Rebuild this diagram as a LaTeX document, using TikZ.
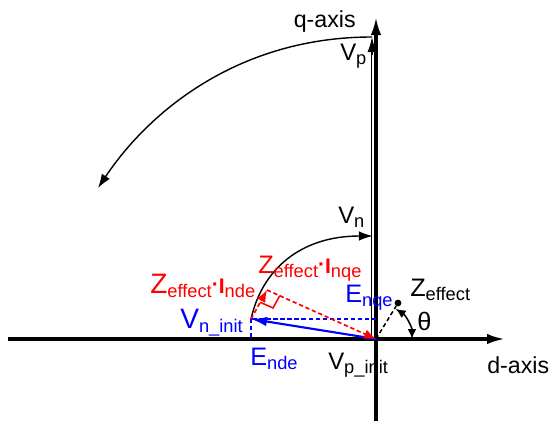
\documentclass[tikz,border=0pt]{standalone}
\usepackage{fontspec}
\setmainfont{Liberation Sans}
\usetikzlibrary{positioning, arrows.meta, calc}
\newcommand{\fsz}[1]{\fontsize{#1}{#1}\selectfont}
\newcommand{\lsub}[1]{\raisebox{-3pt}{\fsz{13}#1}}
\newcommand{\zdot}{\textbf{\fsz{15}\raisebox{1pt}{·}I}}

\begin{document}
\begin{tikzpicture}[
    axis/.style={line width=2.2pt, -{Latex[length=4.5mm, width=2.6mm]}},
    vec/.style={line width=1.5pt, -{Latex[length=4mm, width=2.4mm]}},
    swing/.style={line width=1pt, -{Latex[length=3.5mm, width=2.4mm]}},
    reddash/.style={red, densely dashed, line width=1.2pt, -{Latex[length=3mm, width=2.4mm]}},
    bluedash/.style={blue, densely dashed, line width=1.2pt},
    lbl/.style={inner sep=0pt, anchor=base west, font={\fsz{18}}}
]
\useasboundingbox (-9.4,-2.05) rectangle (4.375,8.475);

% points
\coordinate (O) at (0,0);
\coordinate (Vp) at (-0.1,7.55);
\coordinate (Vn) at (-0.08,2.575);
\coordinate (Vni) at (-3.125,0.5);
\coordinate (Eq) at (0,0.5);
\coordinate (C) at (-2.725,1.225);
\coordinate (swingend) at (-6.95,3.775);
\coordinate (dstart) at (-9.2,0);
\coordinate (dend) at (3.225,0);
\coordinate (qstart) at (0,-2.05);
\coordinate (qend) at (0,8.05);

% axes
\draw[axis] (dstart) -- (dend);
\draw[axis] (qstart) -- (qend);

% V_p
\draw[double, line width=0.6pt, double distance=0.7pt] (-0.1,0) -- (-0.1,7.2);
\draw[line width=1pt, -{Latex[length=3.8mm, width=2.3mm]}] (-0.1,7.1) -- (Vp);
\draw[swing] (Vp) .. controls (-3.4,7.55) and (-5.65,5.725) .. (swingend);

% V_n_init and its parts
\draw[bluedash] (Vni) -- (Vni |- O);
\draw[bluedash] (Eq) -- (Vni);
\draw[vec, blue] (O) -- (Vni);
\draw[swing] (Vni) .. controls (-2.85,1.725) and (-1.9,2.575) .. (Vn);
\draw[reddash] (Vni) -- (C);
\draw[reddash] (C) -- (O);
\path ($(C)!0.35cm!(O)$) coordinate (ra1) ($(C)!0.35cm!(Vni)$) coordinate (ra2);
\draw[red, line width=1.1pt] (ra1) -- ($(ra1)+(ra2)-(C)$) -- (ra2);

% Z_effect
\node[circle, fill, inner sep=1.7pt] (zpt) at (0.55,0.9) {};
\draw[densely dashed, line width=1.1pt] (O) -- (zpt);
\draw[line width=1.1pt, {Latex[length=2.5mm, width=2.2mm]}-{Latex[length=2.5mm, width=2.2mm]}] (0.9,0) arc (0:57:0.9);

% labels
\node[lbl, anchor=base east, font={\fsz{16.5}}] (qlab) at (-0.5,7.8) {q-axis};
\node[lbl, font={\fsz{16.5}}] (dlab) at (2.775,-0.85) {d-axis};
\node[lbl, font={\fsz{17}}] (vplab) at (-0.9,6.975) {V\lsub{p}};
\node[lbl, font={\fsz{17}}] (vnlab) at (-0.95,2.9) {V\lsub{n}};
\node[lbl, red] (zqlab) at (-2.95,1.65) {Z\lsub{effect}\zdot\lsub{nqe}};
\node[lbl, red, font={\fsz{20}}] (zdlab) at (-5.65,1.15) {Z\lsub{effect}\zdot\lsub{nde}};
\node[lbl, blue] (eqlab) at (-0.775,0.925) {E\lsub{nqe}};
\node[lbl, blue] (edlab) at (-3.15,-0.65) {E\lsub{nde}};
\node[lbl] (zlab) at (0.85,1.075) {Z\lsub{effect}};
\node[lbl] (thlab) at (1.025,0.225) {θ};
\node[lbl, blue, font={\fsz{20}}] (vnilab) at (-4.9,0.275) {V\lsub{n\_init}};
\node[lbl, font={\fsz{17}}] (vpilab) at (-1.2,-0.75) {V\lsub{p\_init}};
\end{tikzpicture}
\end{document}
